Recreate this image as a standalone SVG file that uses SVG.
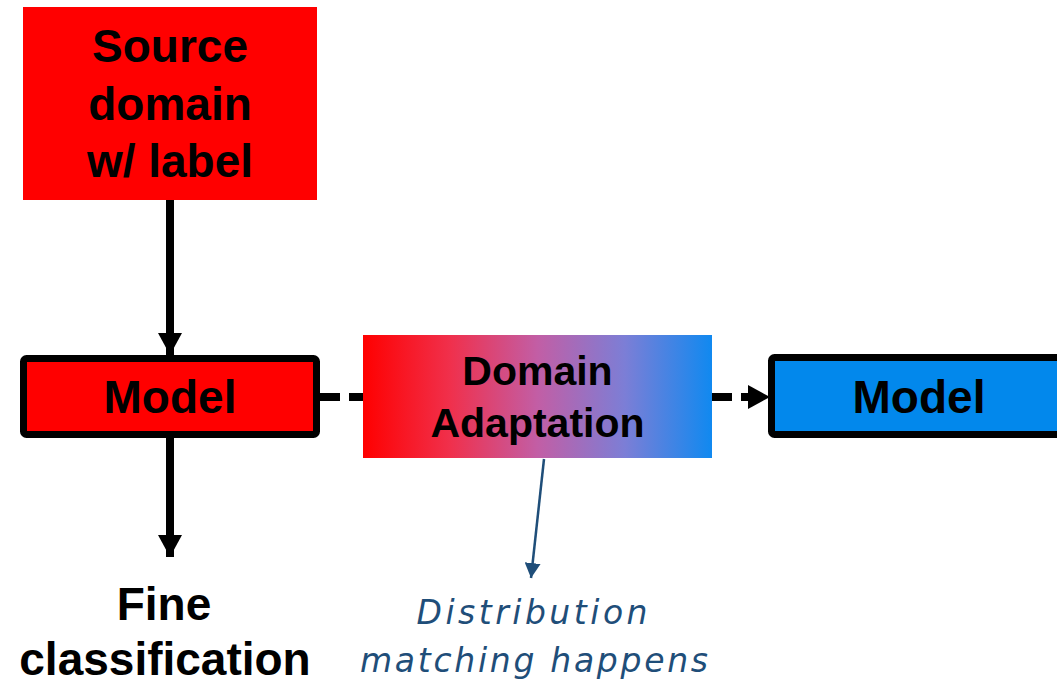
<svg xmlns="http://www.w3.org/2000/svg" width="1057" height="684" viewBox="0 0 1057 684">
  <defs>
    <linearGradient id="daGrad" x1="0" y1="0" x2="1" y2="0">
      <stop offset="0" stop-color="#ff0000"/>
      <stop offset="0.25" stop-color="#f0304c"/>
      <stop offset="0.5" stop-color="#c25ea5"/>
      <stop offset="0.75" stop-color="#7c7ed6"/>
      <stop offset="1" stop-color="#1089f0"/>
    </linearGradient>
    <marker id="headBlack" markerUnits="userSpaceOnUse" markerWidth="24" markerHeight="24" refX="22" refY="12" orient="auto" viewBox="0 0 24 24">
      <path d="M0,0 L22,12 L0,24 Z" fill="#000"/>
    </marker>
    <marker id="headNote" markerUnits="userSpaceOnUse" markerWidth="16" markerHeight="16" refX="15" refY="8" orient="auto" viewBox="0 0 16 16">
      <path d="M0,0 L15,8 L0,16 Z" fill="#1f4e79"/>
    </marker>
  </defs>
  <style>
    .lbl { font-family: "Liberation Sans", Arial, sans-serif; font-weight: bold; fill: #000; text-anchor: middle; }
    .box { stroke: #000; stroke-width: 7; }
    .solid { stroke: #000; stroke-width: 8; fill: none; }
    .dash { stroke: #000; stroke-width: 8; fill: none; stroke-dasharray: 20 9; }
    .note { font-family: "DejaVu Sans", "Noto Sans", sans-serif; font-style: italic; fill: #1f4e79; text-anchor: middle; font-size: 33px; }
  </style>

  <g id="connectors">
    <line class="solid" x1="170" y1="200" x2="170" y2="355" marker-end="url(#headBlack)"/>
    <line class="solid" x1="170" y1="438" x2="170" y2="557" marker-end="url(#headBlack)"/>
    <line class="dash" x1="320" y1="397" x2="363" y2="397"/>
    <line class="dash" x1="712" y1="397" x2="770" y2="397" marker-end="url(#headBlack)"/>
    <line x1="544" y1="459" x2="531" y2="578" stroke="#1f4e79" stroke-width="2.5" marker-end="url(#headNote)"/>
  </g>

  <g id="source">
    <rect x="23" y="7" width="294" height="193" fill="#ff0000"/>
    <text class="lbl" font-size="46" x="170" y="62">Source</text>
    <text class="lbl" font-size="46" x="170" y="120">domain</text>
    <text class="lbl" font-size="46" x="170" y="177">w/ label</text>
  </g>

  <g id="model-source">
    <rect class="box" x="23.5" y="358.5" width="293" height="76" rx="3" fill="#ff0000"/>
    <text class="lbl" font-size="46" x="170" y="413">Model</text>
  </g>

  <g id="domain-adaptation">
    <rect x="363" y="335" width="349" height="123" fill="url(#daGrad)"/>
    <text class="lbl" font-size="41" x="537.5" y="385">Domain</text>
    <text class="lbl" font-size="41" x="537.5" y="437">Adaptation</text>
  </g>

  <g id="model-target">
    <rect class="box" x="771.5" y="357.5" width="300" height="77" rx="3" fill="#0288ec"/>
    <text class="lbl" font-size="46" x="919" y="413">Model</text>
  </g>

  <g id="fine-classification">
    <text class="lbl" font-size="46" x="164" y="620">Fine</text>
    <text class="lbl" font-size="46" x="165" y="675">classification</text>
  </g>

  <g id="note">
    <text class="note" x="532" y="624" textLength="231" lengthAdjust="spacing">Distribution</text>
    <text class="note" x="534" y="672" textLength="348" lengthAdjust="spacing">matching happens</text>
  </g>
</svg>
